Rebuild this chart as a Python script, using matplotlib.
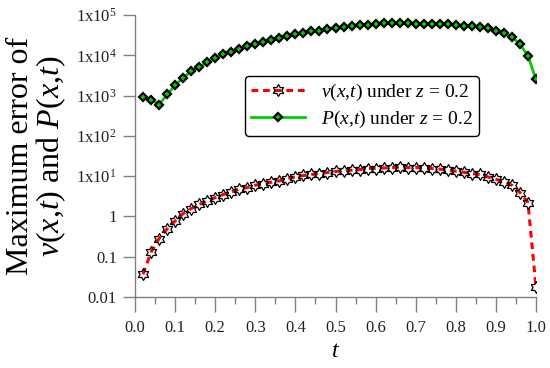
import matplotlib
matplotlib.use("Agg")
import matplotlib.pyplot as plt
from matplotlib.path import Path
import numpy as np

plt.rcParams['font.family'] = ['Liberation Serif', 'DejaVu Serif']
plt.rcParams['mathtext.fontset'] = 'custom'
plt.rcParams['mathtext.rm'] = 'Liberation Serif'
plt.rcParams['mathtext.it'] = 'Liberation Serif:italic'

t = [0.02, 0.04, 0.06, 0.08, 0.10, 0.12, 0.14, 0.16, 0.18, 0.20,
     0.22, 0.24, 0.26, 0.28, 0.30, 0.32, 0.34, 0.36, 0.38, 0.40,
     0.42, 0.44, 0.46, 0.48, 0.50, 0.52, 0.54, 0.56, 0.58, 0.60,
     0.62, 0.64, 0.66, 0.68, 0.70, 0.72, 0.74, 0.76, 0.78, 0.80,
     0.82, 0.84, 0.86, 0.88, 0.90, 0.92, 0.94, 0.96, 0.98, 1.00]

v_err = [0.0366, 0.131, 0.283, 0.489, 0.773, 1.18, 1.57, 1.98, 2.43, 2.95,
         3.50, 4.06, 4.74, 5.22, 5.96, 6.57, 7.08, 7.63, 8.75, 9.59,
         10.4, 11.0, 11.6, 12.3, 13.1, 13.5, 14.1, 14.6, 15.5, 15.5,
         16.0, 16.4, 16.7, 16.4, 16.4, 16.0, 15.5, 14.9, 14.1, 13.3,
         12.5, 11.6, 11.0, 9.6, 8.4, 7.2, 5.96, 3.93, 2.21, 0.0177]

P_err = [900, 800, 600, 1070, 1820, 2770, 4060, 5190, 6680, 8400,
         10550, 12240, 14300, 17000, 19000, 20900, 23900, 26800, 30100, 33700,
         36300, 39400, 40800, 45700, 48300, 51200, 53300, 56400, 57400, 59800,
         62200, 62200, 62000, 63300, 59800, 59800, 59800, 59800, 58500, 56400,
         55000, 53300, 51200, 46800, 40800, 35100, 28900, 19000, 9750, 2520]

xticks = [0.0, 0.1, 0.2, 0.3, 0.4, 0.5, 0.6, 0.7, 0.8, 0.9, 1.0]
xtick_labels = ["0.0", "0.1", "0.2", "0.3", "0.4", "0.5", "0.6", "0.7", "0.8", "0.9", "1.0"]
xminor = [0.05, 0.15, 0.25, 0.35, 0.45, 0.55, 0.65, 0.75, 0.85, 0.95]
yticks = [0.01, 0.1, 1, 10, 100, 1000, 1e4, 1e5]
ytick_labels = ["0.01", "0.1", "1", r"1x10$^{1}$", r"1x10$^{2}$",
                r"1x10$^{3}$", r"1x10$^{4}$", r"1x10$^{5}$"]

fig = plt.figure(figsize=(5.5, 3.68), dpi=100)
ax = fig.add_axes([0.2455, 0.193, 0.729, 0.766])

hexagram = Path.unit_regular_star(6, 0.577)

ax.plot(t, v_err, color='red', linestyle=(0, (2.2, 1.6)), linewidth=2.2,
        marker=hexagram, markersize=8.5, markerfacecolor='none',
        markeredgecolor='black', markeredgewidth=0.9,
        label=r"$v(x{,}t)$ under $z$ = 0.2", zorder=3)
ax.plot(t, P_err, color='#00cc00', linestyle='-', linewidth=2.0,
        marker='D', markersize=4.5, markerfacecolor='#00cc00',
        markeredgecolor='black', markeredgewidth=1.6,
        label=r"$P(x{,}t)$ under $z$ = 0.2", zorder=3)

ax.set_yscale('log')
ax.set_xlim(0.0, 1.0)
ax.set_ylim(0.01, 1e5)
ax.set_xticks(xticks)
ax.set_xticklabels(xtick_labels)
ax.set_xticks(xminor, minor=True)
ax.set_yticks(yticks)
ax.set_yticklabels(ytick_labels)
ax.yaxis.set_minor_locator(matplotlib.ticker.NullLocator())

for s in ['top', 'right']:
    ax.spines[s].set_visible(False)
for s in ['left', 'bottom']:
    ax.spines[s].set_color('#808080')
    ax.spines[s].set_linewidth(1.0)

ax.tick_params(axis='x', which='major', direction='out', length=10.5, width=1.0,
               color='#808080', labelsize=12, pad=6, labelcolor='#222222')
ax.tick_params(axis='x', which='minor', direction='out', length=5, width=1.0,
               color='#808080')
ax.tick_params(axis='y', which='major', direction='out', length=9, width=1.0,
               color='#808080', labelsize=12, pad=4, labelcolor='#222222')

ax.set_xlabel(r"$t$", fontsize=17, labelpad=4)
ax.set_ylabel("Maximum error of\n" + r"$v(x{,}t)$ and $P(x{,}t)$", fontsize=23,
              linespacing=0.95, labelpad=6)

leg = ax.legend(loc='center', bbox_to_anchor=(0.566, 0.677), fontsize=14,
                frameon=True, fancybox=True, edgecolor='black', framealpha=1,
                handlelength=2.8, handletextpad=0.8, labelspacing=0.3,
                borderpad=0.3, borderaxespad=0)
leg.get_frame().set_linewidth(1.0)

fig.savefig("out.png", dpi=100)
